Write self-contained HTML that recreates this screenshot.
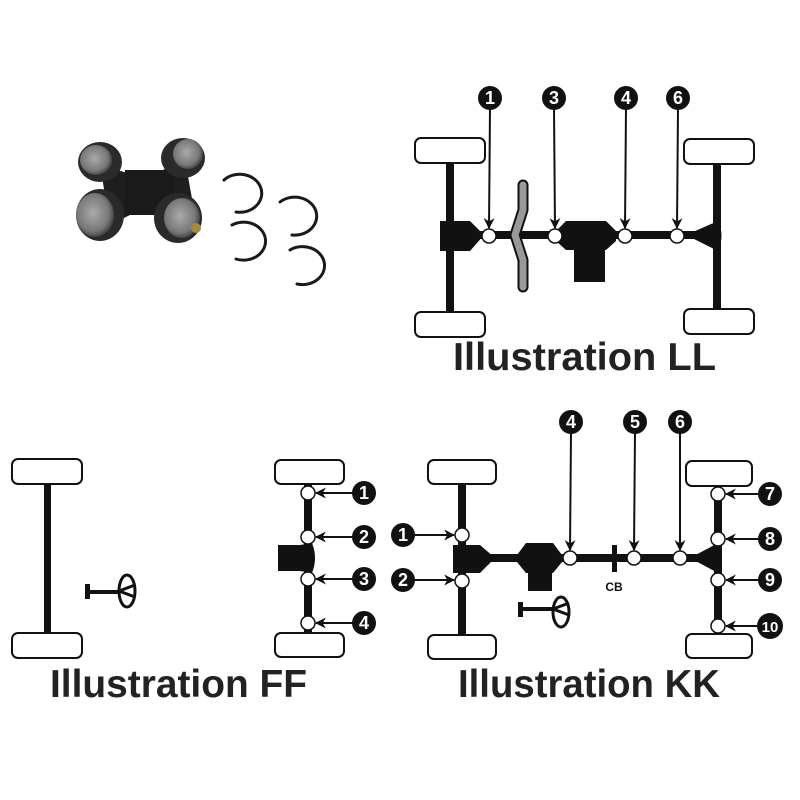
<!DOCTYPE html>
<html><head><meta charset="utf-8"><style>html,body{margin:0;padding:0;background:#fff}svg{display:block}</style></head>
<body>
<svg width="800" height="800" viewBox="0 0 800 800" xmlns="http://www.w3.org/2000/svg">
<defs>
<marker id="ah" viewBox="0 0 10 10" refX="9" refY="5" markerWidth="11" markerHeight="11" orient="auto" markerUnits="userSpaceOnUse">
<path d="M0,0 L10,5 L0,10 L3,5 z" fill="#111"/></marker>
<radialGradient id="cap" cx="0.45" cy="0.45" r="0.6"><stop offset="0" stop-color="#aaa"/><stop offset="0.7" stop-color="#777"/><stop offset="1" stop-color="#333"/></radialGradient>
</defs>
<g font-family="Liberation Sans, sans-serif">
<!-- U-joint photo -->
<g>
<path d="M100,165 L145,178 L185,160 L195,215 L150,205 L110,225 z" fill="#1e1e1e"/>
<rect x="125" y="170" width="50" height="45" fill="#1a1a1a"/>
<ellipse cx="100" cy="162" rx="22" ry="20" fill="#2a2a2a"/>
<ellipse cx="96" cy="160" rx="16" ry="15" fill="url(#cap)"/>
<ellipse cx="183" cy="158" rx="22" ry="20" fill="#2a2a2a"/>
<ellipse cx="188" cy="154" rx="15" ry="15" fill="url(#cap)"/>
<ellipse cx="100" cy="215" rx="24" ry="26" fill="#2a2a2a"/>
<ellipse cx="95" cy="215" rx="19" ry="22" fill="url(#cap)"/>
<ellipse cx="178" cy="218" rx="24" ry="25" fill="#2a2a2a"/>
<ellipse cx="182" cy="218" rx="18" ry="20" fill="url(#cap)"/>
<circle cx="196" cy="228" r="5" fill="#a88a3a"/>
<g fill="none" stroke="#1a1a1a" stroke-width="3" stroke-linecap="round">
<path d="M224,180 A22,19 0 1 1 236,212"/>
<path d="M280,202 A22,19 0 1 1 292,235"/>
<path d="M232,225 A22,19 0 1 1 236,259"/>
<path d="M290,250 A22,19 0 1 1 297,284"/>
</g>
</g>

<!-- Illustration LL -->
<g stroke="#111" stroke-width="2" fill="#fff">
<rect x="415" y="138" width="70" height="25" rx="6"/>
<rect x="415" y="312" width="70" height="25" rx="6"/>
<rect x="684" y="139" width="70" height="25" rx="6"/>
<rect x="684" y="309" width="70" height="25" rx="6"/>
</g>
<g fill="#111">
<rect x="446" y="163" width="8" height="149"/>
<rect x="713" y="164" width="8" height="145"/>
<rect x="450" y="231" width="268" height="8"/>
<path d="M440,221 L470,221 L484,235 L470,251 L440,251 z"/>
<path d="M566,221 L606,221 L616,231 L616,241 L606,250 L605,250 L605,282 L574,282 L574,250 L566,250 L556,241 L556,231 z"/>
<path d="M686,235 L718,221 Q725,235 718,251 z"/>
</g>
<polyline points="523,185 523,210 515,235 523,260 523,287" fill="none" stroke="#111" stroke-width="11" stroke-linecap="round" stroke-linejoin="round"/>
<polyline points="523,185 523,210 515,235 523,260 523,287" fill="none" stroke="#999" stroke-width="7" stroke-linecap="round" stroke-linejoin="round"/>
<g stroke="#111" stroke-width="1.5" fill="#fff">
<circle cx="489" cy="236" r="7"/><circle cx="555" cy="236" r="7"/><circle cx="625" cy="236" r="7"/><circle cx="677" cy="236" r="7"/>
</g>
<g stroke="#111" stroke-width="2" marker-end="url(#ah)">
<line x1="490" y1="108" x2="489" y2="228"/><line x1="554" y1="108" x2="555" y2="228"/><line x1="626" y1="108" x2="625" y2="228"/><line x1="678" y1="108" x2="677" y2="228"/>
</g>
<g fill="#111"><circle cx="490" cy="98" r="12"/><circle cx="554" cy="98" r="12"/><circle cx="626" cy="98" r="12"/><circle cx="678" cy="98" r="12"/></g>
<g fill="#fff" font-weight="bold" font-size="18" text-anchor="middle">
<text x="490" y="104">1</text><text x="554" y="104">3</text><text x="626" y="104">4</text><text x="678" y="104">6</text>
</g>
<text x="453" y="370" font-size="39" font-weight="bold" fill="#222" textLength="263" lengthAdjust="spacingAndGlyphs">Illustration LL</text>

<!-- Illustration FF -->
<g stroke="#111" stroke-width="2" fill="#fff">
<rect x="12" y="459" width="70" height="25" rx="6"/>
<rect x="12" y="633" width="70" height="25" rx="6"/>
<rect x="275" y="460" width="69" height="24" rx="6"/>
<rect x="275" y="633" width="69" height="24" rx="6"/>
</g>
<g fill="#111">
<rect x="44" y="484" width="7" height="149"/>
<rect x="304" y="484" width="8" height="149"/>
<path d="M278,545 L300,545 L312,543 Q318,558 312,573 L300,571 L278,571 z"/>
<rect x="85" y="584" width="5" height="15"/>
<rect x="88" y="590" width="33" height="4"/>
</g>
<ellipse cx="127" cy="591" rx="8" ry="16" fill="#fff" stroke="#111" stroke-width="3"/>
<path d="M119,591 L135,585 M119,591 L135,597 M119,589 L119,593" stroke="#111" stroke-width="3"/>
<g stroke="#111" stroke-width="1.5" fill="#fff">
<circle cx="308" cy="493" r="7"/><circle cx="308" cy="537" r="7"/><circle cx="308" cy="579" r="7"/><circle cx="308" cy="623" r="7"/>
</g>
<g stroke="#111" stroke-width="2" marker-end="url(#ah)">
<line x1="355" y1="493" x2="316" y2="493"/><line x1="355" y1="537" x2="316" y2="537"/><line x1="355" y1="579" x2="316" y2="579"/><line x1="355" y1="623" x2="316" y2="623"/>
</g>
<g fill="#111"><circle cx="364" cy="493" r="12"/><circle cx="364" cy="537" r="12"/><circle cx="364" cy="579" r="12"/><circle cx="364" cy="623" r="12"/></g>
<g fill="#fff" font-weight="bold" font-size="18" text-anchor="middle">
<text x="364" y="499">1</text><text x="364" y="543">2</text><text x="364" y="585">3</text><text x="364" y="629">4</text>
</g>
<text x="50" y="697" font-size="39" font-weight="bold" fill="#222" textLength="257" lengthAdjust="spacingAndGlyphs">Illustration FF</text>

<!-- Illustration KK -->
<g stroke="#111" stroke-width="2" fill="#fff">
<rect x="428" y="460" width="68" height="24" rx="6"/>
<rect x="428" y="635" width="68" height="24" rx="6"/>
<rect x="686" y="461" width="66" height="25" rx="6"/>
<rect x="686" y="634" width="66" height="24" rx="6"/>
</g>
<g fill="#111">
<rect x="458" y="484" width="8" height="151"/>
<rect x="714" y="486" width="8" height="148"/>
<rect x="462" y="554" width="256" height="8"/>
<path d="M453,545 L480,545 L495,558 L480,573 L453,573 z"/>
<path d="M526,543 L553,543 L562,555 L562,562 L553,573 L552,573 L552,591 L528,591 L528,573 L526,573 L517,562 L517,555 z"/>
<path d="M690,558 L718,543 Q726,558 718,573 z"/>
<rect x="612" y="545" width="5" height="27"/>
<rect x="518" y="602" width="5" height="15"/>
<rect x="521" y="607" width="33" height="4"/>
</g>
<ellipse cx="561" cy="612" rx="8" ry="15" fill="#fff" stroke="#111" stroke-width="3"/>
<path d="M553,609 L569,603 M553,609 L569,615" stroke="#111" stroke-width="3"/>
<text x="614" y="591" font-size="12" font-weight="bold" fill="#111" text-anchor="middle">CB</text>
<g stroke="#111" stroke-width="1.5" fill="#fff">
<circle cx="462" cy="535" r="7"/><circle cx="462" cy="581" r="7"/>
<circle cx="570" cy="558" r="7"/><circle cx="634" cy="558" r="7"/><circle cx="680" cy="558" r="7"/>
<circle cx="718" cy="494" r="7"/><circle cx="718" cy="539" r="7"/><circle cx="718" cy="580" r="7"/><circle cx="718" cy="626" r="7"/>
</g>
<g stroke="#111" stroke-width="2" marker-end="url(#ah)">
<line x1="412" y1="535" x2="454" y2="535"/><line x1="412" y1="580" x2="454" y2="580"/>
<line x1="571" y1="432" x2="570" y2="550"/><line x1="635" y1="432" x2="634" y2="550"/><line x1="680" y1="432" x2="680" y2="550"/>
<line x1="762" y1="494" x2="726" y2="494"/><line x1="762" y1="539" x2="726" y2="539"/><line x1="762" y1="580" x2="726" y2="580"/><line x1="760" y1="626" x2="726" y2="626"/>
</g>
<g fill="#111">
<circle cx="403" cy="535" r="12"/><circle cx="403" cy="580" r="12"/>
<circle cx="571" cy="422" r="12"/><circle cx="635" cy="422" r="12"/><circle cx="680" cy="422" r="12"/>
<circle cx="770" cy="494" r="12"/><circle cx="770" cy="539" r="12"/><circle cx="770" cy="580" r="12"/><circle cx="770" cy="626" r="13"/>
</g>
<g fill="#fff" font-weight="bold" font-size="18" text-anchor="middle">
<text x="403" y="541">1</text><text x="403" y="586">2</text>
<text x="571" y="428">4</text><text x="635" y="428">5</text><text x="680" y="428">6</text>
<text x="770" y="500">7</text><text x="770" y="545">8</text><text x="770" y="586">9</text><text x="770" y="632" font-size="15">10</text>
</g>
<text x="458" y="697" font-size="39" font-weight="bold" fill="#222" textLength="262" lengthAdjust="spacingAndGlyphs">Illustration KK</text>
</g>
</svg>
</body></html>
